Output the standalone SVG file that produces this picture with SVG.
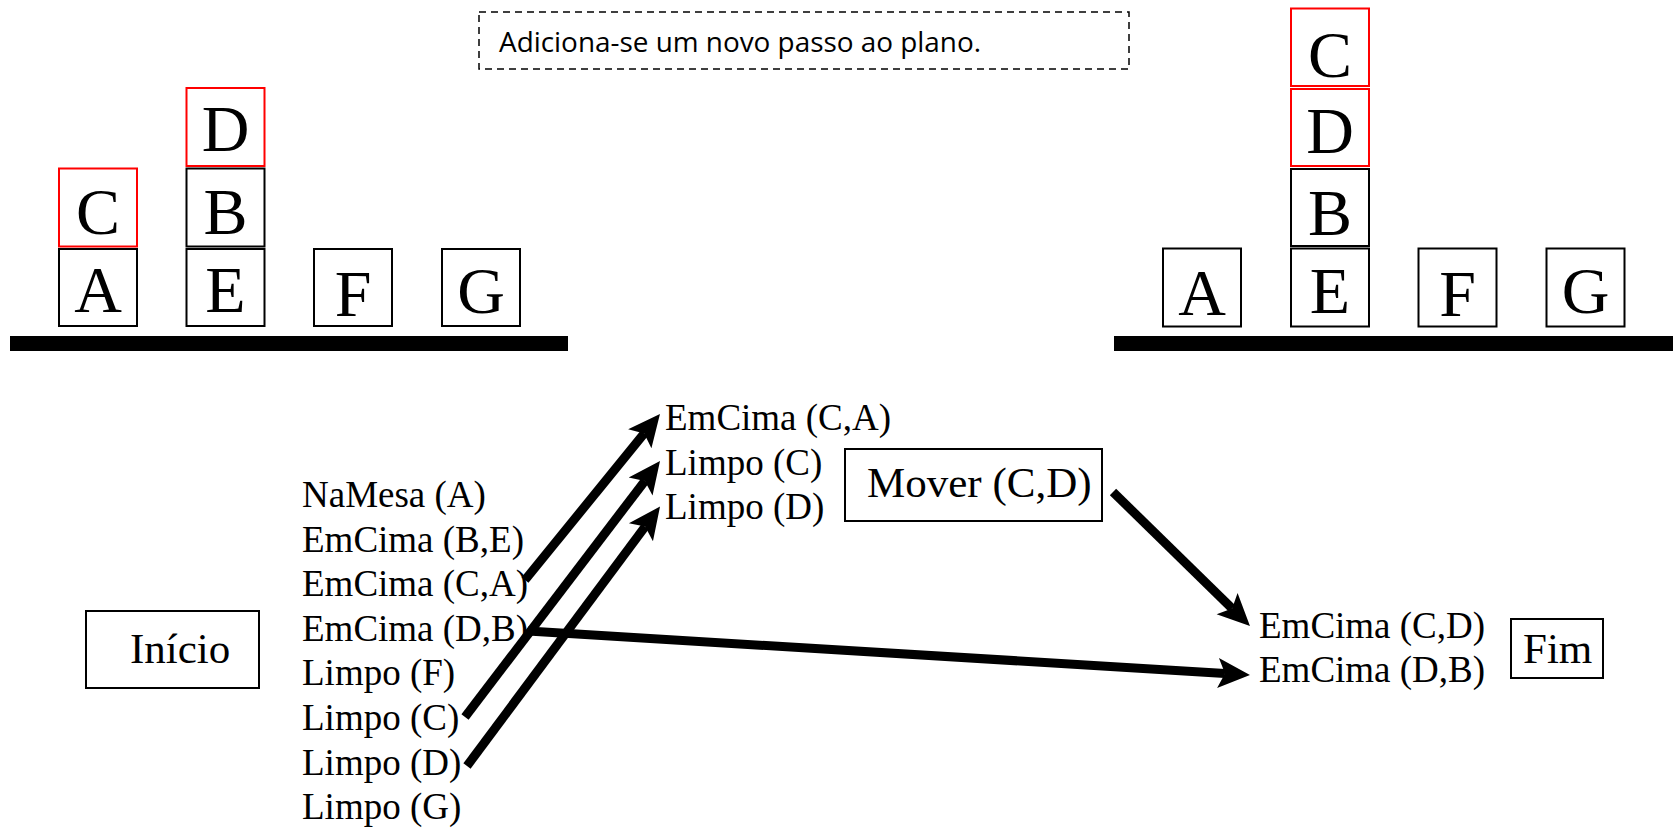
<svg xmlns="http://www.w3.org/2000/svg" width="1679" height="828" viewBox="0 0 1679 828">
<style>
.blk{fill:#fff;stroke:#000;stroke-width:2}
.red{fill:#fff;stroke:#f00;stroke-width:2}
.bl{font-family:"Liberation Serif","Times New Roman",serif;font-size:66px;fill:#000;text-anchor:middle}
.t{font-family:"Liberation Serif","Times New Roman",serif;font-size:37px;fill:#000}
.tb{font-family:"Liberation Serif","Times New Roman",serif;font-size:43px;fill:#000}
.box{fill:#fff;stroke:#000;stroke-width:2}
.arr{fill:none;stroke:#000;stroke-width:9;stroke-linecap:butt;marker-end:url(#ah)}
</style>
<defs>
<marker id="ah" markerUnits="userSpaceOnUse" markerWidth="34" markerHeight="32" viewBox="0 0 34 32" refX="7" refY="16" orient="auto">
<path d="M0,1 L32,16 L0,31 L7,16 Z" fill="#000"/>
</marker>
</defs>
<rect width="1679" height="828" fill="#fff"/>

<g id="note">
<rect x="479" y="12" width="650" height="57" fill="none" stroke="#000" stroke-width="1.5" stroke-dasharray="7 5"/>
<text x="499" y="52" font-family="'Open Sans','Liberation Sans',sans-serif" font-size="28" textLength="482" lengthAdjust="spacingAndGlyphs">Adiciona-se um novo passo ao plano.</text>
</g>

<g id="left-state">
<rect x="10" y="336" width="558" height="15" fill="#000"/>
<g id="L-A"><rect class="blk" x="59" y="249" width="78" height="77"/><text class="bl" x="98" y="312">A</text></g>
<g id="L-C"><rect class="red" x="59" y="168.5" width="78" height="78"/><text class="bl" x="98" y="234">C</text></g>
<g id="L-E"><rect class="blk" x="186.5" y="249" width="78" height="77"/><text class="bl" x="225.5" y="312">E</text></g>
<g id="L-B"><rect class="blk" x="186.5" y="168.5" width="78" height="78"/><text class="bl" x="225.5" y="234">B</text></g>
<g id="L-D"><rect class="red" x="186.5" y="88" width="78" height="78"/><text class="bl" x="225.5" y="151">D</text></g>
<g id="L-F"><rect class="blk" x="314" y="249" width="78" height="77"/><text class="bl" x="353" y="316">F</text></g>
<g id="L-G"><rect class="blk" x="442" y="249" width="78" height="77"/><text class="bl" x="481" y="313">G</text></g>
</g>

<g id="right-state">
<rect x="1114" y="336" width="559" height="15" fill="#000"/>
<g id="R-A"><rect class="blk" x="1163" y="248.5" width="78" height="78"/><text class="bl" x="1202" y="315">A</text></g>
<g id="R-E"><rect class="blk" x="1291" y="248.5" width="78" height="78"/><text class="bl" x="1330" y="313">E</text></g>
<g id="R-B"><rect class="blk" x="1291" y="169" width="78" height="77"/><text class="bl" x="1330" y="235">B</text></g>
<g id="R-D"><rect class="red" x="1291" y="89" width="78" height="77"/><text class="bl" x="1330" y="153">D</text></g>
<g id="R-C"><rect class="red" x="1291" y="8.5" width="78" height="77.5"/><text class="bl" x="1330" y="77">C</text></g>
<g id="R-F"><rect class="blk" x="1418.5" y="248.5" width="78" height="78"/><text class="bl" x="1457.5" y="316">F</text></g>
<g id="R-G"><rect class="blk" x="1546.5" y="248.5" width="78" height="78"/><text class="bl" x="1585.5" y="313">G</text></g>
</g>

<g id="inicio">
<rect class="box" x="86" y="611" width="173" height="77"/>
<text class="tb" x="130" y="663">Início</text>
</g>

<g id="initial-state">
<text class="t" x="302" y="507">NaMesa (A)</text>
<text class="t" x="302" y="551.6">EmCima (B,E)</text>
<text class="t" x="302" y="596.2">EmCima (C,A)</text>
<text class="t" x="302" y="640.8">EmCima (D,B)</text>
<text class="t" x="302" y="685.4">Limpo (F)</text>
<text class="t" x="302" y="730">Limpo (C)</text>
<text class="t" x="302" y="774.6">Limpo (D)</text>
<text class="t" x="302" y="819.2">Limpo (G)</text>
</g>

<g id="preconditions">
<text class="t" x="665" y="430">EmCima (C,A)</text>
<text class="t" x="665" y="475">Limpo (C)</text>
<text class="t" x="665" y="519">Limpo (D)</text>
</g>

<g id="mover">
<rect class="box" x="845" y="449" width="257" height="72"/>
<text class="tb" x="867" y="497">Mover (C,D)</text>
</g>

<g id="goal">
<text class="t" x="1259" y="638">EmCima (C,D)</text>
<text class="t" x="1259" y="682">EmCima (D,B)</text>
</g>

<g id="fim">
<rect class="box" x="1511" y="619" width="92" height="59"/>
<text class="tb" x="1523" y="663">Fim</text>
</g>

<g id="connectors">
<path class="arr" d="M525,580 L644.2,433.4"/>
<path class="arr" d="M465,717 L644.85,480.9"/>
<path class="arr" d="M467,766 L645.1,526.6"/>
<path class="arr" d="M528,631 L1225,673.5"/>
<path class="arr" d="M1113,492 L1232.1,608.5"/>
</g>
</svg>
